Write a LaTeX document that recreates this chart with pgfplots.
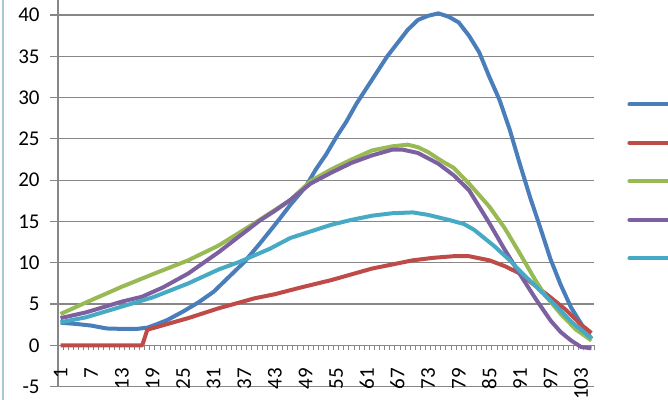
\documentclass[border=0pt]{standalone}
\usepackage{pgfplots}
\pgfplotsset{compat=1.18}
\usepackage{fontspec}
\setmainfont{Carlito}
\definecolor{gridgray}{HTML}{878787}
\definecolor{sblue}{HTML}{4A7EBB}
\definecolor{sred}{HTML}{BE4B48}
\definecolor{sgreen}{HTML}{98B954}
\definecolor{spurple}{HTML}{7D60A0}
\definecolor{scyan}{HTML}{46AAC5}
\definecolor{framecol}{HTML}{A9C6D6}
\begin{document}
\begin{tikzpicture}
\begin{axis}[
  at={(0,0)}, anchor=south west,
  scale only axis, width=268pt, height=206.5pt,
  xmin=0.5, xmax=105.5, ymin=-5, ymax=45,
  axis x line=middle, axis y line=left,
  axis line style={draw=gridgray, line width=0.6pt, -},
  xtick={1,7,...,103},
  minor xtick={0.5,1.5,...,105.5},
  major x tick style={draw=none},
  minor x tick style={draw=gridgray, line width=0.5pt},
  minor tick length=2.5pt,
  xtick align=outside,
  ytick={-5,0,...,40},
  ytick align=outside,
  major tick length=4pt,
  y tick style={draw=gridgray, line width=0.6pt},
  ymajorgrids,
  major grid style={draw=gridgray, line width=0.6pt},
  /pgf/number format/assume math mode=true,
  every x tick label/.style={font=\fontsize{10.5}{12}\selectfont, text=black, rotate=90, anchor=east, inner sep=0pt, xshift=-7pt},
  every y tick label/.style={font=\fontsize{10.5}{12}\selectfont, text=black, anchor=east, inner sep=0pt, xshift=-5pt},
  legend style={at={(1.0616,0.7311)}, anchor=north west, draw=none, fill=none,
    inner sep=0pt, row sep=0pt,
    nodes={inner sep=0pt, minimum height=19.25pt, text depth=0pt}},
  legend image code/.code={\draw[#1, line width=2pt, line cap=round] (0pt,0pt) -- (30pt,0pt);},
  every axis plot/.append style={line width=2pt, line join=round, mark=none},
]
\addplot[sblue] coordinates {
(1,2.75)(4,2.6)(7,2.4)(10,2.05)(13,2.0)(16,2.0)(18,2.15)(20,2.6)(22,3.1)(25,4.1)
(28,5.2)(31,6.5)(34,8.3)(37,10.1)(40,12.3)(43,14.6)(46,17.0)(49,19.2)(51,21.3)
(53,23.1)(55,25.2)(57,27.1)(59,29.3)(61,31.2)(63,33.1)(65,35.0)(67,36.6)(69,38.2)
(71,39.4)(73,39.9)(75,40.2)(77,39.8)(79,39.1)(81,37.5)(83,35.5)(85,32.5)(87,29.7)
(89,26.1)(91,21.9)(93,17.9)(95,14.2)(97,10.4)(99,7.3)(101,4.6)(103,2.6)(105,0.8)};
\addlegendentry{}
\addplot[sred] coordinates {
(1,0)(5,0)(9,0)(13,0)(17,0)(18,1.9)(22,2.6)(26,3.3)(32,4.5)(39,5.7)(43,6.2)(48,7.0)
(54,7.9)(58,8.6)(62,9.3)(66,9.8)(70,10.3)(74,10.6)(78,10.8)(81,10.8)(85,10.3)(88,9.6)
(91,8.7)(93,7.7)(96,6.3)(100,4.3)(103,2.5)(105,1.5)};
\addlegendentry{}
\addplot[sgreen] coordinates {
(1,3.8)(6,5.2)(13,7.1)(19,8.6)(26,10.3)(32,12.1)(39,14.8)(43,16.4)(46,17.6)(50,19.9)
(54,21.3)(58,22.5)(62,23.6)(66,24.1)(69,24.3)(71,24.0)(73,23.4)(76,22.2)(78,21.5)
(81,19.6)(85,16.8)(88,14.2)(91,11.1)(94,7.9)(96,6.0)(99,3.8)(102,1.9)(105,0.6)};
\addlegendentry{}
\addplot[spurple] coordinates {
(1,3.3)(6,4.0)(13,5.3)(17,5.9)(21,7.0)(26,8.7)(29,10.0)(32,11.3)(36,13.2)(40,15.1)
(43,16.3)(46,17.6)(50,19.6)(54,20.9)(58,22.1)(62,23.0)(66,23.7)(68,23.7)(71,23.3)
(75,22.0)(78,20.6)(81,18.8)(83,16.8)(85,14.8)(88,11.6)(91,8.6)(94,5.7)(97,3.0)
(99,1.6)(101,0.6)(103,-0.2)(105,-0.35)};
\addlegendentry{}
\addplot[scyan] coordinates {
(1,2.8)(6,3.4)(13,4.7)(19,5.8)(26,7.5)(32,9.2)(36,10.1)(42,11.7)(46,13.0)(50,13.8)
(54,14.6)(58,15.2)(62,15.7)(66,16.0)(70,16.1)(73,15.8)(77,15.2)(80,14.7)(82,14.0)
(86,12.0)(89,10.3)(91,9.0)(95,6.6)(98,4.8)(101,2.9)(105,0.85)};
\addlegendentry{}
\end{axis}
\draw[framecol, line width=1pt] (-27.4pt,-6.65pt) -- (-27.4pt,193.35pt);
\pgfresetboundingbox
\path[use as bounding box] (-29pt,-6.65pt) rectangle (305pt,193.35pt);
\end{tikzpicture}
\end{document}
